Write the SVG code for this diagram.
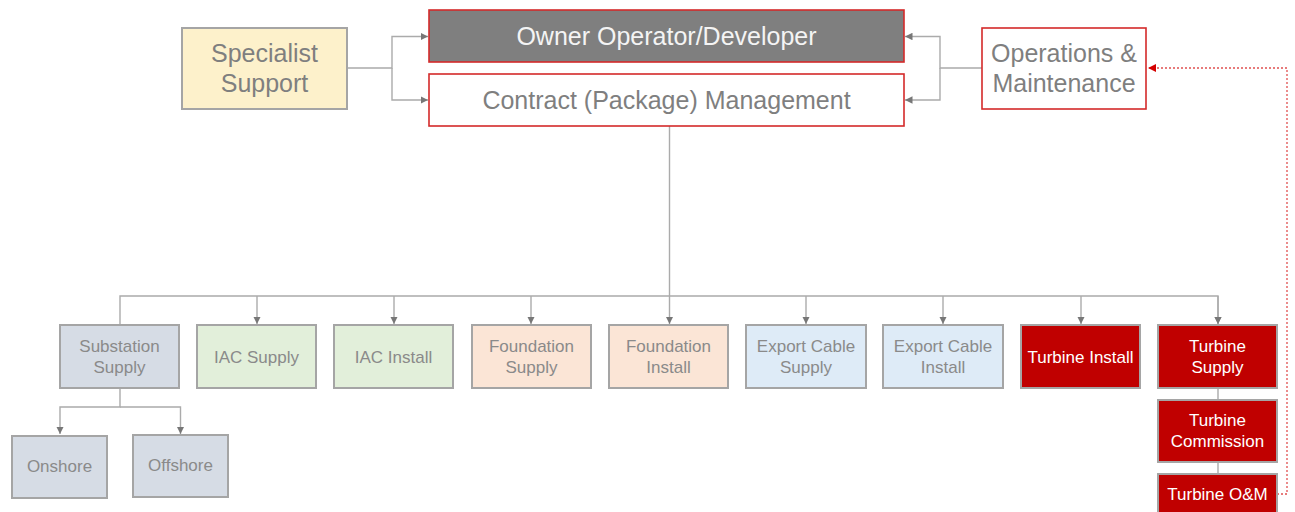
<svg xmlns="http://www.w3.org/2000/svg" width="1295" height="512" viewBox="0 0 1295 512">
<defs>
<style>
.t{font-family:"Liberation Sans",Arial,sans-serif;text-anchor:middle}
.big{font-size:25px;fill:#7f7f7f}
.sm{font-size:17px;fill:#8a8a8a}
.wh{fill:#ffffff}
.box{stroke:#a5a5a5;stroke-width:2}
.redb{stroke:#d42a2a;stroke-width:1.6}
.con{fill:none;stroke:#ababab;stroke-width:1.4}
.dot{fill:none;stroke:#e05050;stroke-width:1.3;stroke-dasharray:2 2}
</style>
<marker id="ah" viewBox="0 0 10 10" refX="10" refY="5" markerWidth="7.5" markerHeight="7.5" orient="auto" markerUnits="userSpaceOnUse">
<path d="M0,0 L10,5 L0,10 z" fill="#777777"/>
</marker>
<marker id="ar" viewBox="0 0 10 10" refX="10" refY="5" markerWidth="8" markerHeight="8" orient="auto" markerUnits="userSpaceOnUse">
<path d="M0,0 L10,5 L0,10 z" fill="#d40000"/>
</marker>
</defs>
<rect width="1295" height="512" fill="#ffffff"/>

<g id="connectors">
<path class="con" d="M347,68 H392 V36.5 H428" marker-end="url(#ah)"/>
<path class="con" d="M392,68 V100 H428" marker-end="url(#ah)"/>
<path class="con" d="M982,68 H940 V36.5 H905" marker-end="url(#ah)"/>
<path class="con" d="M940,68 V100 H905" marker-end="url(#ah)"/>
<path class="con" d="M669.5,126 V324" marker-end="url(#ah)"/>
<path class="con" d="M120,324 V296 H1218 V324" marker-end="url(#ah)"/>
<path class="con" d="M257,296 V324" marker-end="url(#ah)"/>
<path class="con" d="M394,296 V324" marker-end="url(#ah)"/>
<path class="con" d="M531,296 V324" marker-end="url(#ah)"/>
<path class="con" d="M806,296 V324" marker-end="url(#ah)"/>
<path class="con" d="M943,296 V324" marker-end="url(#ah)"/>
<path class="con" d="M1081,296 V324" marker-end="url(#ah)"/>
<path class="con" d="M1218,296 V324" marker-end="url(#ah)"/>
<path class="con" d="M120,388 V407 H60 V434" marker-end="url(#ah)"/>
<path class="con" d="M120,407 H180.5 V434" marker-end="url(#ah)"/>
<path class="con" d="M1218,388 V400 M1218,462 V474"/>
<path class="dot" d="M1277,494 H1287 V68 H1148" marker-end="url(#ar)"/>
</g>

<g id="specialist">
<rect class="box" x="182" y="28" width="165" height="81" fill="#fdf1cb"/>
<text class="t big" x="264.5" y="61.5">Specialist</text>
<text class="t big" x="264.5" y="91.5">Support</text>
</g>
<g id="owner">
<rect class="redb" x="429" y="10" width="475" height="52" fill="#7f7f7f" stroke="#cc0000"/>
<text class="t big" x="666.5" y="45" style="fill:#f4f4f4">Owner Operator/Developer</text>
</g>
<g id="contract">
<rect class="redb" x="429" y="74" width="475" height="52" fill="#ffffff"/>
<text class="t big" x="666.5" y="109">Contract (Package) Management</text>
</g>
<g id="ops">
<rect class="redb" x="982" y="28" width="164" height="81" fill="#ffffff"/>
<text class="t big" x="1064" y="62">Operations &amp;</text>
<text class="t big" x="1064" y="92">Maintenance</text>
</g>

<g id="substation">
<rect class="box" x="60" y="325" width="119" height="63" fill="#d6dce5"/>
<text class="t sm" x="119.5" y="352">Substation</text>
<text class="t sm" x="119.5" y="373">Supply</text>
</g>
<g id="iac-supply">
<rect class="box" x="197" y="325" width="119" height="63" fill="#e2efda"/>
<text class="t sm" x="256.5" y="363">IAC Supply</text>
</g>
<g id="iac-install">
<rect class="box" x="334" y="325" width="119" height="63" fill="#e2efda"/>
<text class="t sm" x="393.5" y="363">IAC Install</text>
</g>
<g id="foundation-supply">
<rect class="box" x="472" y="325" width="119" height="63" fill="#fbe5d6"/>
<text class="t sm" x="531.5" y="352">Foundation</text>
<text class="t sm" x="531.5" y="373">Supply</text>
</g>
<g id="foundation-install">
<rect class="box" x="609" y="325" width="119" height="63" fill="#fbe5d6"/>
<text class="t sm" x="668.5" y="352">Foundation</text>
<text class="t sm" x="668.5" y="373">Install</text>
</g>
<g id="export-supply">
<rect class="box" x="746" y="325" width="120" height="63" fill="#deebf7"/>
<text class="t sm" x="806" y="352">Export Cable</text>
<text class="t sm" x="806" y="373">Supply</text>
</g>
<g id="export-install">
<rect class="box" x="883" y="325" width="120" height="63" fill="#deebf7"/>
<text class="t sm" x="943" y="352">Export Cable</text>
<text class="t sm" x="943" y="373">Install</text>
</g>
<g id="turbine-install">
<rect class="box" x="1021" y="325" width="119" height="63" fill="#c00000"/>
<text class="t sm wh" x="1080.5" y="363">Turbine Install</text>
</g>
<g id="turbine-supply">
<rect class="box" x="1158" y="325" width="119" height="63" fill="#c00000"/>
<text class="t sm wh" x="1217.5" y="352">Turbine</text>
<text class="t sm wh" x="1217.5" y="373">Supply</text>
</g>
<g id="turbine-commission">
<rect class="box" x="1158" y="400" width="119" height="62" fill="#c00000"/>
<text class="t sm wh" x="1217.5" y="426">Turbine</text>
<text class="t sm wh" x="1217.5" y="446.5">Commission</text>
</g>
<g id="turbine-om">
<rect class="box" x="1158" y="474" width="119" height="50" fill="#c00000"/>
<text class="t sm wh" x="1217.5" y="500">Turbine O&amp;M</text>
</g>
<g id="onshore">
<rect class="box" x="12" y="436" width="95" height="62" fill="#d6dce5"/>
<text class="t sm" x="59.5" y="471.5">Onshore</text>
</g>
<g id="offshore">
<rect class="box" x="133" y="435" width="95" height="62" fill="#d6dce5"/>
<text class="t sm" x="180.5" y="470.5">Offshore</text>
</g>
</svg>
